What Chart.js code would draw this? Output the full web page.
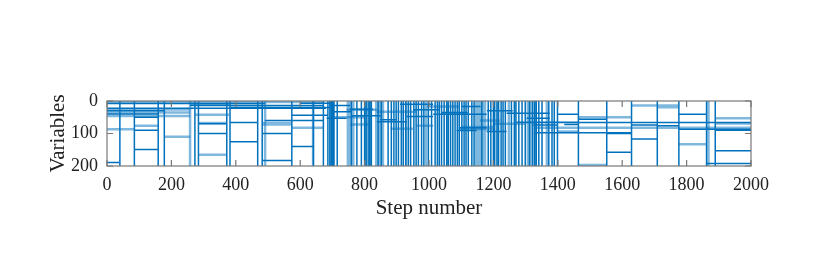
<!DOCTYPE html>
<html>
<head>
<meta charset="utf-8">
<script src="https://cdn.jsdelivr.net/npm/chart.js@4"></script>
<style>
  body { margin: 0; background: #fff; }
  canvas { display: block; }
</style>
</head>
<body>
<canvas id="myChart" width="830" height="277"></canvas>
<script>
// steps where the active set changes (full height vertical lines)
const darkSteps = [40, 85, 159, 178, 273, 284, 372, 382, 468, 482, 574, 641, 672,
  686, 692, 697, 701, 705, 715, 759, 776, 790, 800, 805, 811, 816, 821, 842, 852,
  873, 883, 891, 898, 905, 914, 920, 928, 936, 943, 953, 960, 967, 977, 984, 998,
  1008, 1019, 1026, 1032, 1039, 1047, 1055, 1060, 1067, 1074, 1081, 1088, 1094,
  1102, 1109, 1115, 1122, 1133, 1140, 1164, 1184, 1192, 1200, 1204, 1211, 1216,
  1224, 1230, 1237, 1256, 1265, 1270, 1279, 1289, 1299, 1312, 1322, 1328, 1333,
  1341, 1351, 1372, 1382, 1389, 1399, 1464, 1552, 1629, 1709, 1776, 1862, 1889];
const lightSteps = [258, 491, 640, 748, 751, 754, 765, 836, 839, 847, 857, 929, 991,
  1146, 1150, 1153, 1158, 1168, 1174, 1248, 1307, 1317, 1366, 1868];

// horizontal segments: [variable, fromStep, toStep]
const darkSegs = [
  [8, 0, 491], [14, 258, 672], [22, 0, 680], [30, 0, 178], [40, 0, 159], [50, 85, 159],
  [90, 85, 159], [149, 85, 159], [189, 0, 40], [70, 284, 372], [100, 284, 372],
  [66, 382, 468], [125, 382, 468], [20, 382, 641], [100, 482, 574], [183, 482, 574],
  [140, 574, 641], [44, 574, 686], [60, 491, 672],
  [7, 599, 703], [14, 693, 755], [20, 599, 703], [25, 755, 827], [41, 1013, 1179],
  [48, 931, 1013], [53, 682, 744], [64, 838, 931], [82, 1096, 1179], [91, 1086, 1148],
  [94, 1179, 1241], [10, 910, 1013], [27, 952, 1034], [58, 848, 900], [38, 1241, 1375],
  [53, 1303, 1375], [74, 1324, 1399], [65, 1272, 1464], [33, 700, 760], [17, 1100, 1160],
  [30, 1180, 1260], [45, 760, 850], [35, 1040, 1120],
  [41, 1399, 1464], [41, 1776, 1862], [56, 1464, 1552], [66, 1300, 2000], [72, 1420, 1464],
  [74, 1629, 1709], [76, 1709, 1776], [87, 1776, 2000], [90, 1889, 2000], [98, 1330, 1629],
  [100, 1552, 1629], [117, 1629, 1709], [153, 1889, 2000], [158, 1552, 1629], [192, 1862, 2000]
];
const lightSegs = [
  [3, 0, 672], [10, 258, 380], [26, 0, 258], [35, 0, 258], [46, 0, 258], [76, 85, 159],
  [87, 0, 85], [110, 178, 258], [68, 284, 372], [165, 284, 372], [42, 273, 380],
  [68, 482, 574], [72, 482, 574], [82, 574, 672],
  [27, 744, 838], [33, 838, 962], [72, 755, 817], [76, 962, 1013], [86, 1096, 1199],
  [17, 993, 1096], [60, 1158, 1220], [50, 700, 800], [80, 1100, 1200], [70, 1200, 1300],
  [85, 880, 950],
  [14, 1629, 1776], [19, 1709, 1776], [50, 1464, 1629], [53, 1889, 2000], [69, 1889, 2000],
  [82, 1330, 2000], [94, 1399, 1464], [133, 1776, 1862], [197, 1464, 1552]
];

const xTicks = [0, 200, 400, 600, 800, 1000, 1200, 1400, 1600, 1800, 2000];
const yTicks = [0, 100, 200];

function vLines(steps) {
  const pts = [];
  steps.forEach(s => { pts.push({x: s, y: 0}, {x: s, y: 200}, {x: s, y: null}); });
  return pts;
}
function hLines(segs) {
  const pts = [];
  segs.forEach(g => { pts.push({x: g[1], y: g[0]}, {x: g[2], y: g[0]}, {x: g[2], y: null}); });
  return pts;
}

const dark = '#0072BD';
const light = 'rgba(0,114,189,0.5)';

// MATLAB style box with inward ticks on all four sides
const boxPlugin = {
  id: 'box',
  afterDraw(chart) {
    const {ctx, chartArea: a, scales} = chart;
    ctx.save();
    ctx.strokeStyle = '#777';
    ctx.lineWidth = 1.2;
    ctx.strokeRect(a.left, a.top, a.right - a.left, a.bottom - a.top);
    ctx.beginPath();
    xTicks.forEach(v => {
      const px = scales.x.getPixelForValue(v);
      ctx.moveTo(px, a.bottom); ctx.lineTo(px, a.bottom - 6);
      ctx.moveTo(px, a.top); ctx.lineTo(px, a.top + 6);
    });
    yTicks.forEach(v => {
      const py = scales.y.getPixelForValue(v);
      ctx.moveTo(a.left, py); ctx.lineTo(a.left + 6, py);
      ctx.moveTo(a.right, py); ctx.lineTo(a.right - 6, py);
    });
    ctx.stroke();
    ctx.restore();
  }
};

const serif = 'Liberation Serif';

const ctx = document.getElementById('myChart');
new Chart(ctx, {
  type: 'scatter',
  data: {
    datasets: [
      { data: hLines(darkSegs), borderColor: dark, borderWidth: 1.5 },
      { data: vLines(darkSteps), borderColor: dark, borderWidth: 1.5 },
      { data: hLines(lightSegs), borderColor: light, borderWidth: 2.5 },
      { data: vLines(lightSteps), borderColor: light, borderWidth: 2.5 }
    ].map(d => Object.assign(d, { showLine: true, spanGaps: false, pointRadius: 0, fill: false }))
  },
  options: {
    responsive: false,
    maintainAspectRatio: false,
    animation: false,
    events: [],
    layout: { padding: { left: 31, right: 79, top: 101, bottom: 51 } },
    plugins: { legend: { display: false }, tooltip: { enabled: false } },
    scales: {
      x: {
        type: 'linear',
        min: 0, max: 2000,
        afterFit: s => { s.height = 60; },
        afterBuildTicks: s => { s.ticks = xTicks.map(v => ({value: v})); },
        grid: { display: false, drawTicks: false },
        border: { display: false },
        ticks: { color: '#222', padding: 8, font: { family: serif, size: 18 }, callback: v => String(v) },
        title: { display: true, text: 'Step number', color: '#222', padding: { top: 0, bottom: 5 },
          font: { family: serif, size: 21 } }
      },
      y: {
        type: 'linear',
        reverse: true,
        min: 0, max: 200,
        afterFit: s => { s.width = 76; },
        afterBuildTicks: s => { s.ticks = yTicks.map(v => ({value: v})); },
        grid: { display: false, drawTicks: false },
        border: { display: false },
        ticks: { color: '#222', padding: 9, font: { family: serif, size: 18 }, callback: v => String(v) },
        title: { display: true, text: 'Variables', color: '#222', padding: { top: 15, bottom: 0 },
          font: { family: serif, size: 21 } }
      }
    }
  },
  plugins: [boxPlugin]
});
</script>
</body>
</html>
